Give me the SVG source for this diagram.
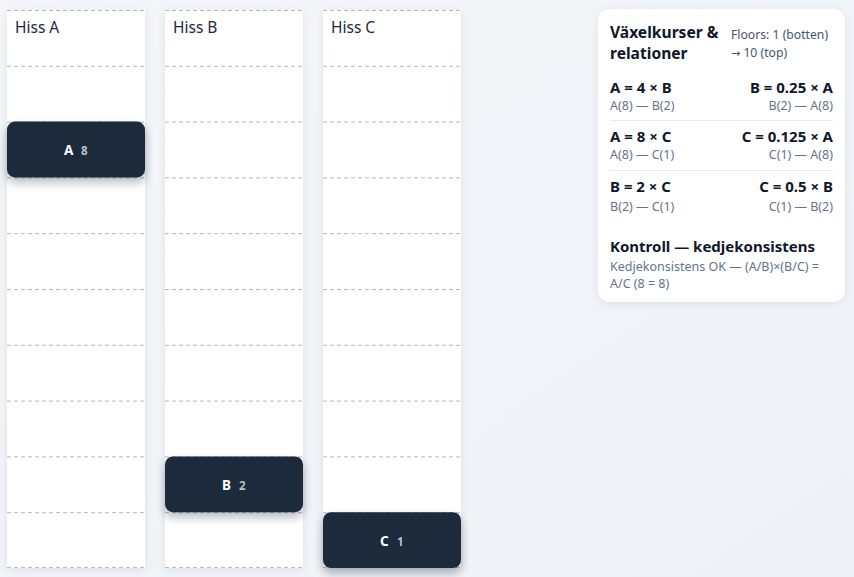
<svg xmlns="http://www.w3.org/2000/svg" width="854" height="577" viewBox="0 0 854 577">
<defs>
<linearGradient id="bg" x1="0" y1="0" x2="1" y2="1"><stop offset="0" stop-color="#f4f6f9"/><stop offset="1" stop-color="#eef2f7"/></linearGradient>
<filter id="sh" x="-20%" y="-20%" width="140%" height="140%"><feDropShadow dx="0" dy="2" stdDeviation="4" flood-color="#0f172a" flood-opacity="0.08"/></filter>
<filter id="csh" x="-20%" y="-30%" width="140%" height="180%"><feDropShadow dx="0" dy="5" stdDeviation="5" flood-color="#0f172a" flood-opacity="0.3"/></filter>
</defs>
<style>
text{font-family:"Noto Sans","Open Sans","Liberation Sans",sans-serif}
.col{fill:#ffffff}
.fl{stroke:#b8b8be;stroke-width:1;stroke-dasharray:4 3;fill:none}
.htitle{font-size:15.5px;fill:#1e293b}
.car{fill:#1e293b}
.cl{font-size:13.5px;font-weight:700;fill:#ffffff}
.cn{font-size:11.5px;font-weight:700;fill:#b8c0cc}
.pt{font-size:15.6px;font-weight:700;fill:#0f172a}
.ps{font-size:12.2px;fill:#475569}
.eq{font-size:15px;font-weight:700;fill:#0f172a}
.sub{font-size:12.5px;fill:#64748b}
.div{stroke:#e8ecf1;stroke-width:1}
.arr{font-family:"DejaVu Sans",sans-serif;font-size:11px}
</style>
<rect width="854" height="577" fill="url(#bg)"/>
<g id="shaft-A">
<rect class="col" x="7" y="10" width="138" height="558" filter="url(#sh)"/>
<g class="fl">
<line x1="7" y1="10.5" x2="145" y2="10.5"/><line x1="7" y1="66.3" x2="145" y2="66.3"/><line x1="7" y1="122.1" x2="145" y2="122.1"/><line x1="7" y1="177.9" x2="145" y2="177.9"/><line x1="7" y1="233.7" x2="145" y2="233.7"/><line x1="7" y1="289.5" x2="145" y2="289.5"/><line x1="7" y1="345.3" x2="145" y2="345.3"/><line x1="7" y1="401.1" x2="145" y2="401.1"/><line x1="7" y1="456.9" x2="145" y2="456.9"/><line x1="7" y1="512.7" x2="145" y2="512.7"/><line x1="7" y1="567.5" x2="145" y2="567.5"/>
</g>
<text class="htitle" x="15" y="33">Hiss A</text>
</g>
<g id="shaft-B">
<rect class="col" x="165" y="10" width="138" height="558" filter="url(#sh)"/>
<g class="fl">
<line x1="165" y1="10.5" x2="303" y2="10.5"/><line x1="165" y1="66.3" x2="303" y2="66.3"/><line x1="165" y1="122.1" x2="303" y2="122.1"/><line x1="165" y1="177.9" x2="303" y2="177.9"/><line x1="165" y1="233.7" x2="303" y2="233.7"/><line x1="165" y1="289.5" x2="303" y2="289.5"/><line x1="165" y1="345.3" x2="303" y2="345.3"/><line x1="165" y1="401.1" x2="303" y2="401.1"/><line x1="165" y1="456.9" x2="303" y2="456.9"/><line x1="165" y1="512.7" x2="303" y2="512.7"/><line x1="165" y1="567.5" x2="303" y2="567.5"/>
</g>
<text class="htitle" x="173" y="33">Hiss B</text>
</g>
<g id="shaft-C">
<rect class="col" x="323" y="10" width="138" height="558" filter="url(#sh)"/>
<g class="fl">
<line x1="323" y1="10.5" x2="461" y2="10.5"/><line x1="323" y1="66.3" x2="461" y2="66.3"/><line x1="323" y1="122.1" x2="461" y2="122.1"/><line x1="323" y1="177.9" x2="461" y2="177.9"/><line x1="323" y1="233.7" x2="461" y2="233.7"/><line x1="323" y1="289.5" x2="461" y2="289.5"/><line x1="323" y1="345.3" x2="461" y2="345.3"/><line x1="323" y1="401.1" x2="461" y2="401.1"/><line x1="323" y1="456.9" x2="461" y2="456.9"/><line x1="323" y1="512.7" x2="461" y2="512.7"/><line x1="323" y1="567.5" x2="461" y2="567.5"/>
</g>
<text class="htitle" x="331" y="33">Hiss C</text>
</g>
<g id="car-A">
<rect class="car" x="7" y="121.6" width="138" height="55.8" rx="8" filter="url(#csh)"/>
<text class="cl" x="64" y="155">A</text><text class="cn" x="81" y="155">8</text>
</g>
<g id="car-B">
<rect class="car" x="165" y="456.4" width="138" height="55.8" rx="8" filter="url(#csh)"/>
<text class="cl" x="222" y="490">B</text><text class="cn" x="239" y="490">2</text>
</g>
<g id="car-C">
<rect class="car" x="323" y="512.2" width="138" height="55.8" rx="8" filter="url(#csh)"/>
<text class="cl" x="380" y="546">C</text><text class="cn" x="397" y="546">1</text>
</g>
<g id="panel">
<rect x="598" y="9" width="247" height="293" rx="12" fill="#ffffff" filter="url(#sh)"/>
<text class="pt" x="610" y="38">Växelkurser &amp;</text>
<text class="pt" x="610" y="59">relationer</text>
<text class="ps" x="731" y="39">Floors: 1 (botten)</text>
<text class="ps" x="731" y="57"><tspan class="arr">→</tspan> 10 (top)</text>
<text class="eq" x="610" y="93">A = 4 × B</text>
<text class="eq" x="833" y="93" text-anchor="end">B = 0.25 × A</text>
<text class="sub" x="610" y="110">A(8) — B(2)</text>
<text class="sub" x="833" y="110" text-anchor="end">B(2) — A(8)</text>
<line class="div" x1="610" y1="120.5" x2="833" y2="120.5"/>
<text class="eq" x="610" y="142">A = 8 × C</text>
<text class="eq" x="833" y="142" text-anchor="end">C = 0.125 × A</text>
<text class="sub" x="610" y="159">A(8) — C(1)</text>
<text class="sub" x="833" y="159" text-anchor="end">C(1) — A(8)</text>
<line class="div" x1="610" y1="170.5" x2="833" y2="170.5"/>
<text class="eq" x="610" y="192">B = 2 × C</text>
<text class="eq" x="833" y="192" text-anchor="end">C = 0.5 × B</text>
<text class="sub" x="610" y="211">B(2) — C(1)</text>
<text class="sub" x="833" y="211" text-anchor="end">C(1) — B(2)</text>
<text class="eq" x="610" y="252">Kontroll — kedjekonsistens</text>
<text class="sub" x="610" y="271">Kedjekonsistens OK — (A/B)×(B/C) =</text>
<text class="sub" x="610" y="288">A/C (8 = 8)</text>
</g>
</svg>
